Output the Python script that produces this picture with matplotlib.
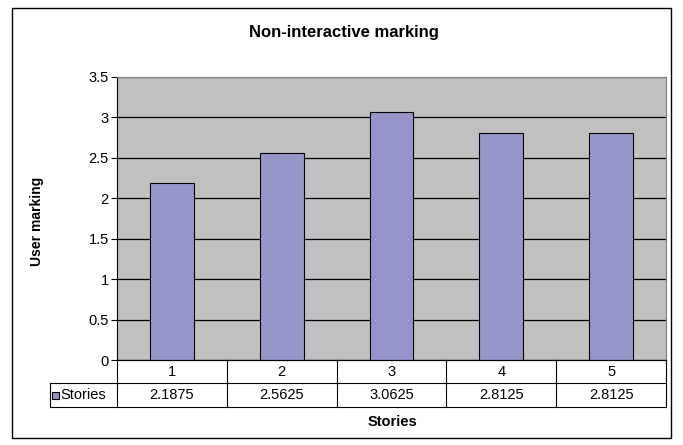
import matplotlib
matplotlib.use("Agg")
import matplotlib.pyplot as plt
from matplotlib.patches import Rectangle
from matplotlib.lines import Line2D

categories = ["1", "2", "3", "4", "5"]
values = [2.1875, 2.5625, 3.0625, 2.8125, 2.8125]
value_labels = ["2.1875", "2.5625", "3.0625", "2.8125", "2.8125"]
series_name = "Stories"
yticks = [0, 0.5, 1, 1.5, 2, 2.5, 3, 3.5]
ytick_labels = ["0", "0.5", "1", "1.5", "2", "2.5", "3", "3.5"]

plt.rcParams['font.family'] = ['Liberation Sans', 'DejaVu Sans']

W, H = 683, 445
fig = plt.figure(figsize=(W / 100, H / 100), dpi=100)
fig.patch.set_facecolor("white")

def fx(px):
    return px / W

def fy(py):
    return 1 - py / H

# outer border
fig.add_artist(Rectangle((fx(12), fy(438)), fx(671) - fx(12), fy(8) - fy(438),
                         transform=fig.transFigure, fill=False, edgecolor="black", lw=1.0))

left, right, top, bottom = 117, 666, 77, 360
ax = fig.add_axes([fx(left), fy(bottom), fx(right) - fx(left), fy(top) - fy(bottom)])
ax.set_facecolor("#C0C0C0")

x = list(range(len(categories)))
ax.bar(x, values, width=0.4, color="#9595C9", edgecolor="black", linewidth=0.8, zorder=3)
ax.set_xlim(-0.5, len(categories) - 0.5)
ax.set_ylim(0, 3.5)
ax.set_yticks(yticks)
ax.set_yticklabels(ytick_labels, fontsize=10.5)
ax.yaxis.grid(True, color="black", linewidth=0.9, zorder=1)
ax.set_axisbelow(True)
ax.set_xticks([])
ax.tick_params(axis="y", direction="out", length=4, width=0.8, pad=2)
for s in ["top", "right"]:
    ax.spines[s].set_color("#808080")
    ax.spines[s].set_linewidth(0.8)
ax.spines["left"].set_color("black")
ax.spines["bottom"].set_color("black")

# data table
row1_top, row1_bot, row2_bot = 360, 383, 407
table_left = 50
cell_w = (right - left) / len(categories)
lines = []
lines.append(((left, row1_top), (right, row1_top)))
lines.append(((table_left, row1_bot), (right, row1_bot)))
lines.append(((table_left, row2_bot), (right, row2_bot)))
lines.append(((table_left, row1_bot), (table_left, row2_bot)))
for i in range(len(categories) + 1):
    xx = left + i * cell_w
    lines.append(((xx, row1_top), (xx, row2_bot)))
for (x0, y0), (x1, y1) in lines:
    fig.add_artist(Line2D([fx(x0), fx(x1)], [fy(y0), fy(y1)], transform=fig.transFigure,
                          color="black", lw=0.8))
for i, (c, v) in enumerate(zip(categories, value_labels)):
    cx = left + (i + 0.5) * cell_w
    fig.text(fx(cx), fy((row1_top + row1_bot) / 2), c, ha="center", va="center", fontsize=10.5)
    fig.text(fx(cx), fy((row1_bot + row2_bot) / 2), v, ha="center", va="center", fontsize=10.5)
# legend key
fig.add_artist(Rectangle((fx(52), fy(399)), fx(59) - fx(52), fy(392) - fy(399),
                         transform=fig.transFigure, facecolor="#9595C9", edgecolor="black", lw=0.8))
fig.text(fx(60.5), fy((row1_bot + row2_bot) / 2), series_name, ha="left", va="center", fontsize=10.5)

# titles
fig.text(fx(344), fy(32), "Non-interactive marking", ha="center", va="center",
         fontsize=12, fontweight="bold")
fig.text(fx(392), fy(422), "Stories", ha="center", va="center", fontsize=10.5, fontweight="bold")
fig.text(fx(37), fy(221), "User marking", ha="center", va="center", fontsize=10,
         fontweight="bold", rotation=90)

fig.savefig("out.png", dpi=100)
